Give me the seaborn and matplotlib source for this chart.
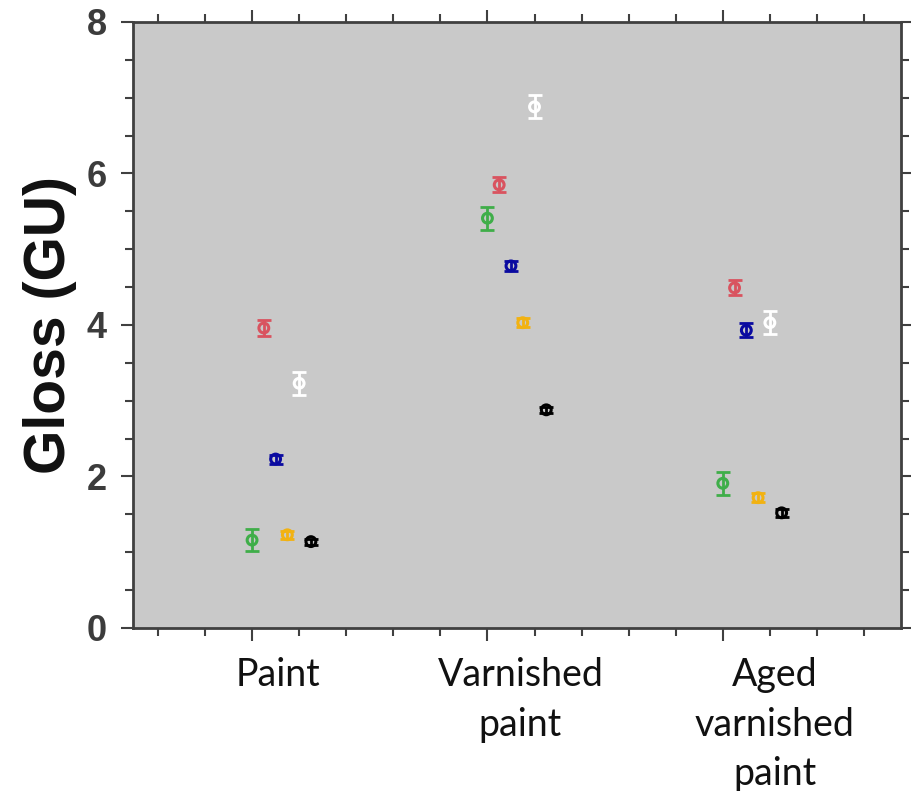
import numpy as np
import pandas as pd
import matplotlib
matplotlib.use("Agg")
import matplotlib.pyplot as plt
import seaborn as sns
from matplotlib.ticker import MultipleLocator

# Datos
categorias = ["Paint", "Varnished\npaint", "Aged\nvarnished\npaint"]
series = ["verde", "rojo", "azul", "naranja", "blanco", "negro"]
colores = ["#3fae49", "#d9535f", "#0a0aa0", "#f2b211", "#ffffff", "#000000"]

brillo = {
    "verde":   [1.16, 5.41, 1.91],
    "rojo":    [3.96, 5.85, 4.49],
    "azul":    [2.23, 4.78, 3.93],
    "naranja": [1.23, 4.03, 1.72],
    "blanco":  [3.23, 6.88, 4.03],
    "negro":   [1.14, 2.88, 1.52],
}
error = {
    "verde":   [0.15, 0.15, 0.15],
    "rojo":    [0.11, 0.10, 0.10],
    "azul":    [0.06, 0.07, 0.09],
    "naranja": [0.05, 0.06, 0.06],
    "blanco":  [0.15, 0.15, 0.15],
    "negro":   [0.04, 0.04, 0.05],
}

filas = []
for j, s in enumerate(series):
    for i, c in enumerate(categorias):
        filas.append({"cat": i + 1, "serie": s, "pos": i + 1 + 0.05 * j,
                      "gloss": brillo[s][i], "err": error[s][i]})
df = pd.DataFrame(filas)

sns.set_theme(style="ticks")
plt.rcParams['font.family'] = ['Liberation Sans', 'DejaVu Sans']

fig = plt.figure(figsize=(9.12, 7.91), dpi=100)
ax = fig.add_axes([0.1458, 0.2061, 0.8421, 0.7661])
ax.set_facecolor("#c9c9c9")

paleta = dict(zip(series, colores))
for s in series:
    d = df[df["serie"] == s]
    ax.errorbar(d["pos"], d["gloss"], yerr=d["err"], fmt="none",
                ecolor=paleta[s], elinewidth=2, capsize=5, capthick=2, zorder=2)

sns.scatterplot(data=df, x="pos", y="gloss", hue="serie", palette=paleta,
                s=50, linewidth=2.2, legend=False, ax=ax, zorder=3)
pts = ax.collections[-1]
pts.set_edgecolors(pts.get_facecolors())
pts.set_facecolors("none")

ax.set_xlim(0.494, 3.757)
ax.set_ylim(0, 8)
ax.yaxis.set_major_locator(MultipleLocator(2))
ax.yaxis.set_minor_locator(MultipleLocator(0.5))
ax.xaxis.set_major_locator(MultipleLocator(1))
ax.xaxis.set_minor_locator(MultipleLocator(0.2))
ax.tick_params(which="both", direction="out", top=True, right=True,
               color="#404040", width=1.5)
ax.tick_params(which="major", length=9)
ax.tick_params(which="minor", length=6)
ax.tick_params(axis="x", which="both", labelbottom=False)
ax.tick_params(axis="y", labelsize=26, labelcolor="#3c3c3c", pad=10)
for t in ax.get_yticklabels():
    t.set_fontweight("bold")
for sp in ax.spines.values():
    sp.set_color("#404040")
    sp.set_linewidth(2)

ax.set_xlabel("")
ax.set_ylabel("Gloss (GU)", fontsize=41, fontweight="bold", color="#111111", labelpad=7)

# Etiquetas de categoria debajo del eje
centros = [1.11, 2.14, 3.22]
for c, x in zip(categorias, centros):
    ax.text(x, -0.048, c, transform=ax.get_xaxis_transform(), ha="center", va="top",
            fontsize=27, family=["Lato", "DejaVu Sans"], color="#111111",
            linespacing=1.47)

fig.savefig("out.png", dpi=100, facecolor="white")
